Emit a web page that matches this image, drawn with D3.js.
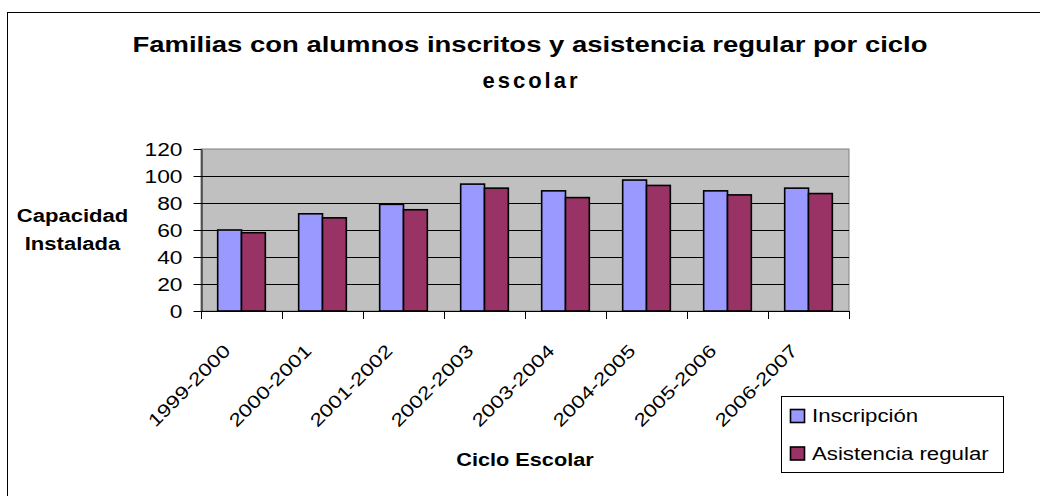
<!DOCTYPE html>
<html><head><meta charset="utf-8">
<script src="https://cdn.jsdelivr.net/npm/d3@7"></script>
<style>
html,body{margin:0;padding:0;background:#fff;}
svg text{font-family:Arial,"Liberation Sans",sans-serif;fill:#000;}
</style></head>
<body>
<svg id="c" width="1040" height="496"></svg>
<script>
const categories = ["1999-2000","2000-2001","2001-2002","2002-2003","2003-2004","2004-2005","2005-2006","2006-2007"];
const inscripcion = [60, 72, 79, 94, 89, 97, 89, 91];
const asistencia = [58, 69, 75, 91, 84, 93, 86, 87];
const seriesNames = ["Inscripción", "Asistencia regular"];
const seriesColors = ["#9999FF", "#993366"];
const yTicks = [0, 20, 40, 60, 80, 100, 120];
const titleLines = ["Familias con alumnos inscritos  y asistencia regular por ciclo", "escolar"];
const xTitle = "Ciclo Escolar";
const yTitleLines = ["Capacidad", "Instalada"];

const SX = 1.28;
const svg = d3.select("#c");
function stretch(sel, factor) {
  sel.each(function () {
    const l = this.getComputedTextLength();
    d3.select(this).attr("textLength", l * (factor || SX)).attr("lengthAdjust", "spacingAndGlyphs");
  });
  return sel;
}

svg.append("rect").attr("x", 7.5).attr("y", 12.5).attr("width", 1040).attr("height", 500)
  .attr("fill", "#fff").attr("stroke", "#000").attr("stroke-width", 1);

const L = 201, R = 849, T = 149, B = 311;
const x = d3.scaleBand().domain(categories).range([L, R]).paddingInner(0).paddingOuter(0);
const y = d3.scaleLinear().domain([0, 120]).range([B, T]);
const x1 = d3.scaleBand().domain([0, 1]).range([0, x.bandwidth()]).paddingInner(0).paddingOuter(0.7);

svg.append("rect").attr("x", L).attr("y", T).attr("width", R - L).attr("height", B - T)
  .attr("fill", "#C0C0C0").attr("stroke", "#808080").attr("stroke-width", 1);

svg.append("g").selectAll("line").data(yTicks.filter(d => d > 0 && d < 120)).join("line")
  .attr("x1", L).attr("x2", R).attr("y1", d => Math.round(y(d)) + 0.5).attr("y2", d => Math.round(y(d)) + 0.5)
  .attr("stroke", "#000").attr("stroke-width", 1);

const data = categories.map((c, i) => ({c, v: [inscripcion[i], asistencia[i]]}));
const g = svg.append("g").selectAll("g").data(data).join("g")
  .attr("transform", d => `translate(${x(d.c)},0)`);
g.selectAll("rect").data(d => d.v.map((v, k) => ({v, k}))).join("rect")
  .attr("x", d => x1(d.k)).attr("width", x1.bandwidth())
  .attr("y", d => y(d.v)).attr("height", d => y(0) - y(d.v))
  .attr("fill", d => seriesColors[d.k]).attr("stroke", "#000").attr("stroke-width", 1.6);

const yAxis = svg.append("g").attr("transform", `translate(${L + 0.5},0)`)
  .call(d3.axisLeft(y).tickValues(yTicks).tickSize(8).tickSizeOuter(0).tickPadding(11));
yAxis.select(".domain").attr("stroke", "#000");
yAxis.selectAll(".tick line").attr("stroke", "#000");
yAxis.selectAll(".tick text").attr("font-size", 17.5).attr("font-family", "Arial, 'Liberation Sans', sans-serif").attr("fill", "#000").attr("dy", "0.36em");
stretch(yAxis.selectAll(".tick text"), 1.3);

const bounds = categories.map(c => x(c)).concat([R]);
const xa = svg.append("g");
xa.append("line").attr("x1", L).attr("x2", R).attr("y1", B + 0.5).attr("y2", B + 0.5).attr("stroke", "#000");
xa.selectAll("line.t").data(bounds).join("line").attr("class", "t")
  .attr("x1", d => Math.round(d) + 0.5).attr("x2", d => Math.round(d) + 0.5)
  .attr("y1", B).attr("y2", B + 8).attr("stroke", "#000");
const xl = xa.selectAll("text").data(categories).join("text")
  .attr("text-anchor", "end").attr("font-size", 18)
  .attr("transform", d => `translate(${x(d) + x.bandwidth() / 2 - 10},${B + 41}) rotate(-45)`)
  .text(d => d);
stretch(xl, 1.25);

const tt = svg.append("text").attr("text-anchor", "middle").attr("font-weight", "bold").attr("font-size", 22)
  .attr("x", 530).attr("y", 52).text(titleLines[0])
  .attr("textLength", 795).attr("lengthAdjust", "spacingAndGlyphs");
svg.append("text").attr("text-anchor", "middle").attr("font-weight", "bold").attr("font-size", 22)
  .attr("x", 530).attr("y", 88).text(titleLines[1])
  .attr("textLength", 95).attr("lengthAdjust", "spacing");

const xt = svg.append("text").attr("text-anchor", "middle").attr("font-weight", "bold").attr("font-size", 17.5)
  .attr("x", 525).attr("y", 466).text(xTitle);
stretch(xt, 1.24);

svg.selectAll("text.yt").data(yTitleLines).join("text").attr("class", "yt")
  .attr("text-anchor", "middle").attr("font-weight", "bold").attr("font-size", 17.5)
  .attr("x", 72.5).attr("y", (d, i) => 222 + i * 28).text(d => d)
  .call(s => stretch(s, 1.26));

const lg = svg.append("g");
lg.append("rect").attr("x", 781.5).attr("y", 396.5).attr("width", 222).attr("height", 76)
  .attr("fill", "#fff").attr("stroke", "#000");
const items = lg.selectAll("g").data(seriesNames).join("g")
  .attr("transform", (d, i) => `translate(0,${i * 37.5})`);
items.append("rect").attr("x", 790.5).attr("y", 409.5).attr("width", 14).attr("height", 13)
  .attr("fill", (d, i) => seriesColors[i]).attr("stroke", "#000").attr("stroke-width", 1.6);
const lt = items.append("text").attr("x", 812).attr("y", 422).attr("font-size", 17.5).text(d => d);
stretch(lt, 1.27);
</script>
</body></html>
